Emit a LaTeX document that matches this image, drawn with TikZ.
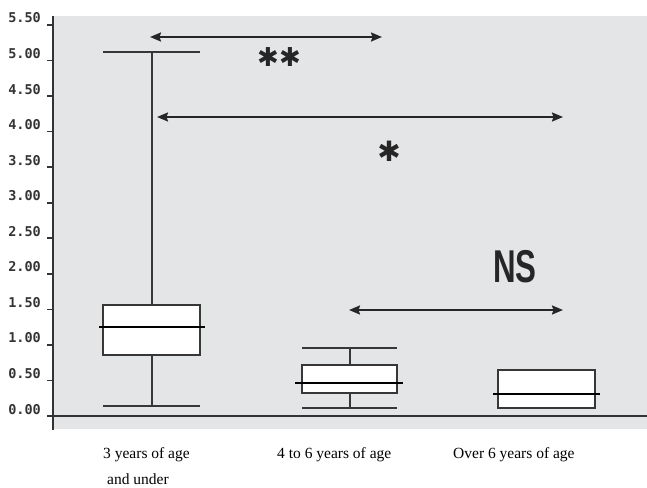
\documentclass[tikz,border=0pt]{standalone}
\usepackage{fontspec}
\setmainfont{Liberation Serif}
\newfontfamily\tickfont{DejaVu Sans Mono}
\newfontfamily\sigfont{DejaVu Sans}
\newfontfamily\nsfont[FakeStretch=0.68]{Liberation Sans}
\usetikzlibrary{arrows.meta}
\definecolor{panel}{RGB}{228,229,231}
\definecolor{boxline}{RGB}{55,55,55}

\begin{document}
\begin{tikzpicture}[x=1pt, y=-1pt, >={Stealth[length=11pt,width=9pt,inset=1.5pt]},
    whisk/.style={boxline, line width=1.4pt},
    iqr/.style={boxline, line width=1.4pt, fill=white},
    med/.style={black, line width=2.8pt},
    compare/.style={<->, line width=2pt, black!85},
    agelabel/.style={anchor=base west, inner sep=0, font=\fontsize{15.5}{18}\selectfont}]
    \useasboundingbox (0,0) rectangle (647,487);
    \fill[panel] (53,16) rectangle (647,429);

    \draw[line width=1.8pt, black!80] (53,16) -- (53,430);
    \draw[line width=1.6pt, black!80] (47,416) -- (647,416);
    \foreach \v/\t in {0/0.00, 0.5/0.50, 1/1.00, 1.5/1.50, 2/2.00, 2.5/2.50,
                       3/3.00, 3.5/3.50, 4/4.00, 4.5/4.50, 5/5.00, 5.5/5.50} {
        \draw[line width=1.6pt, black!80] (47,416-71.1*\v) -- (53,416-71.1*\v);
        \node[anchor=base east, inner sep=0, black!80,
              font=\tickfont\bfseries\fontsize{13.5}{15}\selectfont]
            at (41,414-71.1*\v) {\t};
    }

    % 3 years of age and under
    \draw[whisk] (103,52) -- (200,52);
    \draw[whisk] (152,52) -- (152,305);
    \draw[whisk] (152,355) -- (152,406);
    \draw[whisk] (103,406) -- (200,406);
    \draw[iqr] (103,305) rectangle (200,355);
    \draw[med] (99,327) -- (205,327);

    % 4 to 6 years of age
    \draw[whisk] (302,348) -- (397,348);
    \draw[whisk] (350,348) -- (350,365);
    \draw[whisk] (350,393) -- (350,408);
    \draw[whisk] (302,408) -- (397,408);
    \draw[iqr] (302,365) rectangle (397,393);
    \draw[med] (295,383) -- (403,383);

    % over 6 years of age
    \draw[iqr] (498,370) rectangle (595,408);
    \draw[med] (493,394) -- (600,394);

    \coordinate (p1) at (150,37);
    \coordinate (q1) at (382,37);
    \coordinate (p2) at (157,117);
    \coordinate (q2) at (563,117);
    \coordinate (p3) at (349,310);
    \coordinate (q3) at (563,310);
    \draw[compare] (p1) -- (q1);
    \draw[compare] (p2) -- (q2);
    \draw[compare] (p3) -- (q3);

    \node[font=\sigfont\fontsize{26}{26}\selectfont, black!85] (twostar) at (279,57) {✱✱};
    \node[font=\sigfont\fontsize{28}{28}\selectfont, black!85] (onestar) at (389,151) {✱};
    \node[font=\nsfont\bfseries\fontsize{46}{46}\selectfont, black!85] (ns) at (515,267) {NS};

    \node[agelabel] (g1) at (103,458) {3 years of age};
    \node[agelabel] (g1b) at (107,484) {and under};
    \node[agelabel] (g2) at (277,458) {4 to 6 years of age};
    \node[agelabel] (g3) at (453,458) {Over 6 years of age};
\end{tikzpicture}
\end{document}
